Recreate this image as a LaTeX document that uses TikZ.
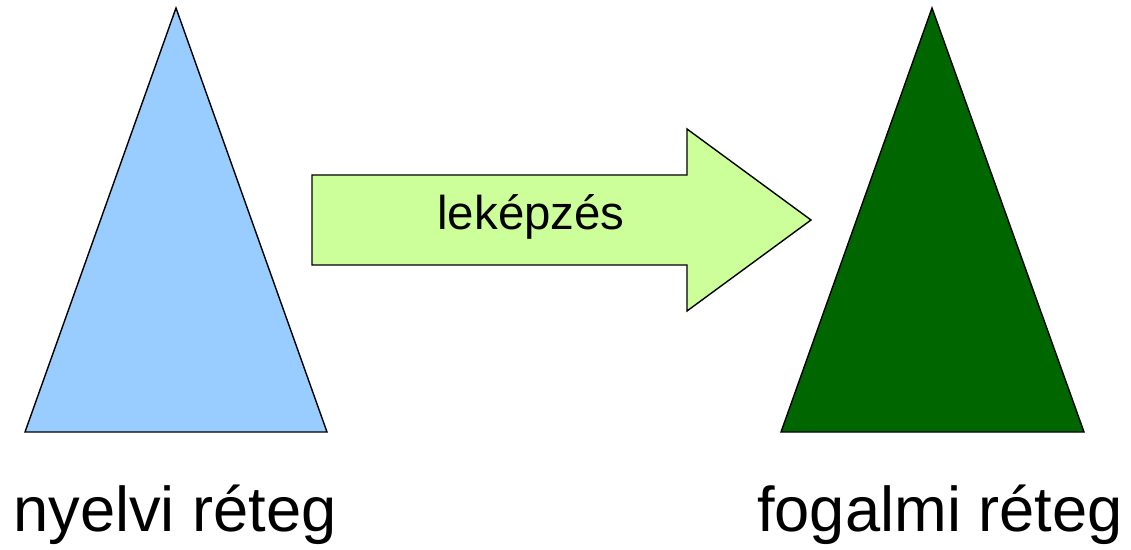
\documentclass[tikz,border=0pt]{standalone}
\usepackage{fontspec}
\setmainfont{Liberation Sans}
\usetikzlibrary{positioning}
\definecolor{nyelviBlue}{HTML}{99CCFF}
\definecolor{fogalmiGreen}{HTML}{006600}
\definecolor{arrowGreen}{HTML}{CCFF99}

\begin{document}
\begin{tikzpicture}[x=0.02cm, y=-0.02cm, line width=0.8pt]
    \useasboundingbox (0,0) rectangle (1131,550);
    \coordinate (A) at (176,8);
    \coordinate (B) at (25,432);
    \coordinate (C) at (327,432);
    \coordinate (D) at (932,8);
    \coordinate (E) at (781,432);
    \coordinate (F) at (1084,432);
    
    \filldraw[fill=nyelviBlue, draw=black] (A)--(B)--(C)--cycle;
    \filldraw[fill=fogalmiGreen, draw=black] (D)--(E)--(F)--cycle;
    
    \filldraw[fill=arrowGreen, draw=black]
        (312,175)--(687,175)--(687,129)--(811,220)--(687,311)--(687,265)--(312,265)--cycle;
    
    \node (map) at (531,217) {\fontsize{27}{32}\selectfont leképzés};
    \node (nyelvi) at (175,515) {\fontsize{36}{43}\selectfont nyelvi réteg};
    \node (fogalmi) at (940,515) {\fontsize{36}{43}\selectfont fogalmi réteg};
\end{tikzpicture}
\end{document}
